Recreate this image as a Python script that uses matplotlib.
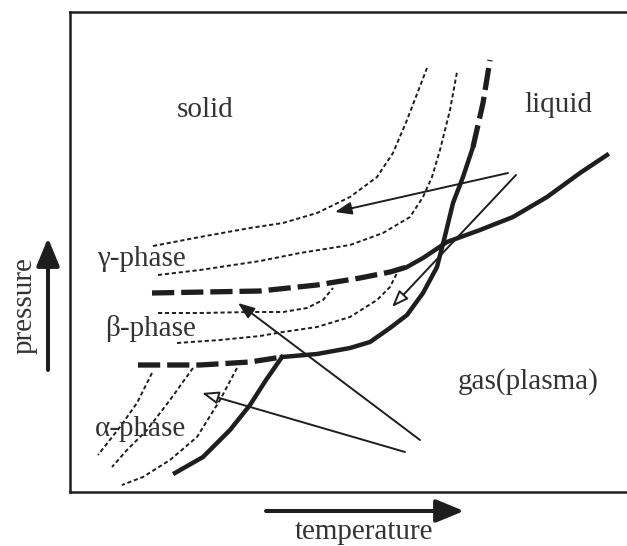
import matplotlib.pyplot as plt

plt.rcParams['font.family'] = ['Liberation Serif', 'DejaVu Serif']
plt.rcParams['lines.scale_dashes'] = False

# schematic phase diagram, arbitrary units (temperature T, pressure P)
# thin dotted curves in the gamma region
gam1_T = [83, 130, 180, 213, 247, 280, 307, 323, 337, 357]
gam1_P = [246, 255, 264, 269, 279, 295, 315, 339, 372, 424]
gam2_T = [88, 130, 190, 230, 280, 313, 340, 353, 362, 370, 380, 387]
gam2_P = [217, 222, 231, 239, 247, 259, 275, 295, 315, 342, 382, 420]

# dotted curves in the beta region
bet1_T = [88, 130, 180, 213, 237, 253, 263]
bet1_P = [179, 179, 180, 180, 184, 192, 204]
bet2_T = [107, 150, 190, 213, 247, 280, 307, 320, 327]
bet2_P = [149, 152, 156, 160, 165, 175, 192, 205, 219]

# dotted curves in the alpha region
alp1_T = [82, 67, 50, 28]
alp1_P = [119, 89, 65, 37]
alp2_T = [123, 100, 77, 57, 42]
alp2_P = [124, 92, 62, 42, 25]
alp3_T = [167, 150, 127, 100, 73, 52]
alp3_P = [124, 92, 55, 32, 15, 7]

# phase boundaries (thick)
gb_dash_T = [82, 135, 190, 247, 290, 320, 337]          # gamma/beta, dashed part
gb_dash_P = [199, 200, 201, 207, 214, 220, 225]
gb_solid_T = [337, 353, 365, 377, 410, 443, 477, 510, 537]   # continues as solid
gb_solid_P = [225, 234, 242, 250, 262, 275, 295, 319, 337]

ba_dash_T = [68, 130, 180, 212]                          # beta/alpha, dashed
ba_dash_P = [127, 127, 130, 135]

low_T = [105, 133, 160, 180, 196, 212]                    # lower solid curve
low_P = [19, 35, 62, 87, 112, 135]

melt_T = [212, 247, 280, 300, 320, 337, 353, 367, 374, 383, 393, 403]
melt_P = [135, 138, 144, 150, 164, 177, 199, 225, 252, 289, 315, 345]
melt_dash_T = [403, 413, 420]
melt_dash_P = [345, 389, 432]

# thin arrows: (tail, head, open head?)
arrows = [
    ((438, 319), (265, 280), False),
    ((446, 317), (322, 185), True),
    ((350, 52), (168, 189), False),
    ((335, 40), (132, 99), True),
]

labels = [
    ('solid', 135, 382),
    ('liquid', 488, 387),
    ('γ-phase', 71, 233),
    ('β-phase', 81, 163),
    ('α-phase', 71, 63),
    ('gas(plasma)', 458, 110),
]

W, H = 627, 546
ink = '#1e1e1e'
txt = '#333333'

fig = plt.figure(figsize=(W / 100, H / 100), dpi=100)
ax = fig.add_axes([70 / W, 54 / H, 600 / W, 480 / H])
ax.set_xlim(0, 600)
ax.set_ylim(0, 480)
ax.set_xticks([])
ax.set_yticks([])
ax.spines['right'].set_visible(False)
for s in ['left', 'top', 'bottom']:
    ax.spines[s].set_linewidth(1.8)
    ax.spines[s].set_color(ink)

dotted = dict(color=ink, lw=1.4, dashes=(3, 2))
for t, p in [(gam1_T, gam1_P), (gam2_T, gam2_P), (bet1_T, bet1_P), (bet2_T, bet2_P),
             (alp1_T, alp1_P), (alp2_T, alp2_P), (alp3_T, alp3_P)]:
    ax.plot(t, p, **dotted)

thick_dash = dict(color=ink, lw=3.8, dashes=(16, 5), solid_capstyle='butt')
ax.plot(gb_dash_T, gb_dash_P, **thick_dash)
ax.plot(ba_dash_T, ba_dash_P, **thick_dash)
ax.plot(melt_dash_T, melt_dash_P, **thick_dash)

ax.plot(gb_solid_T, gb_solid_P, color=ink, lw=3.2, solid_joinstyle='round')
ax.plot(low_T, low_P, color=ink, lw=3.2, solid_joinstyle='round')
ax.plot(melt_T, melt_P, color=ink, lw=3.2, solid_joinstyle='round')

for tail, head, hollow in arrows:
    ax.annotate('', xy=head, xytext=tail,
                arrowprops=dict(arrowstyle='-|>,head_length=1.0,head_width=0.38',
                                lw=1.4, ec=ink, fc='white' if hollow else ink,
                                shrinkA=0, shrinkB=0))

for s, t, p in labels:
    ax.text(t, p, s, fontsize=21, color=txt, ha='center', va='center')

# axis arrows outside the frame
ax.annotate('', xy=(464, 35), xytext=(266, 35), xycoords='figure pixels',
            textcoords='figure pixels', annotation_clip=False,
            arrowprops=dict(arrowstyle='-|>,head_length=1.7,head_width=0.7',
                            lw=2.9, color=ink, shrinkA=0, shrinkB=0))
ax.annotate('', xy=(48, 308), xytext=(48, 176), xycoords='figure pixels',
            textcoords='figure pixels', annotation_clip=False,
            arrowprops=dict(arrowstyle='-|>,head_length=1.7,head_width=0.7',
                            lw=2.9, color=ink, shrinkA=0, shrinkB=0))

fig.text(364 / W, 1 / H, 'temperature', fontsize=21, color=txt, ha='center', va='bottom')
fig.text(25 / W, 240 / H, 'pressure', fontsize=21, color=txt, ha='center', va='center',
         rotation=90)

fig.savefig('out.png', dpi=100)
